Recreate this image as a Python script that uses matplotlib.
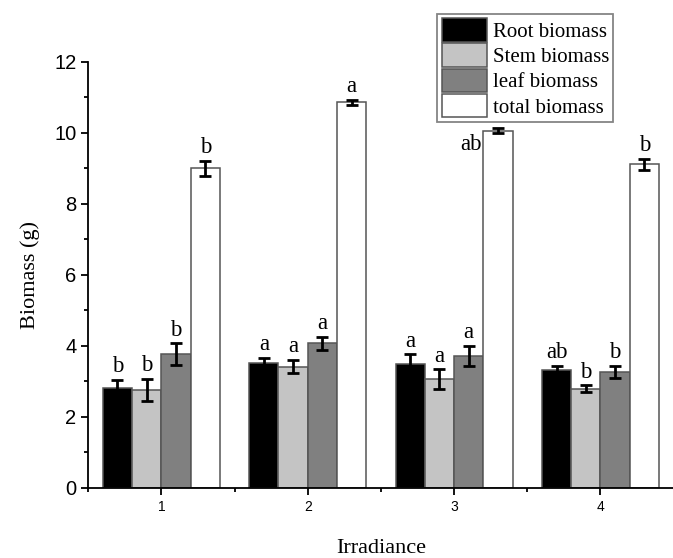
import numpy as np
import matplotlib
matplotlib.use('Agg')
from matplotlib import pyplot as plt
from matplotlib.ticker import MultipleLocator

# irradiance levels
irradiance = [1, 2, 3, 4]
series_names = ['Root biomass', 'Stem biomass', 'leaf biomass', 'total biomass']

root_mean = [2.81, 3.52, 3.48, 3.33]
stem_mean = [2.77, 3.42, 3.06, 2.79]
leaf_mean = [3.76, 4.08, 3.72, 3.27]
total_mean = [9.01, 10.86, 10.06, 9.12]

root_err = [0.23, 0.15, 0.28, 0.10]
stem_err = [0.31, 0.19, 0.28, 0.10]
leaf_err = [0.31, 0.18, 0.28, 0.16]
total_err = [0.21, 0.06, 0.07, 0.15]

root_sig = ['b', 'a', 'a', 'ab']
stem_sig = ['b', 'a', 'a', 'b']
leaf_sig = ['b', 'a', 'a', 'b']
total_sig = ['b', 'a', 'ab', 'b']

means = [root_mean, stem_mean, leaf_mean, total_mean]
errs = [root_err, stem_err, leaf_err, total_err]
sigs = [root_sig, stem_sig, leaf_sig, total_sig]
colors = ['#000000', '#c4c4c4', '#808080', '#ffffff']

SERIF = 'Liberation Serif'
SANS = 'Liberation Sans'

fig = plt.figure(figsize=(6.73, 5.58), dpi=100)
ax = fig.add_axes([0.131, 0.1255, 0.870, 0.7635])

x = np.array(irradiance, dtype=float)
width = 0.2
offsets = [-0.3, -0.1, 0.1, 0.3]

for k in range(4):
    xs = x + offsets[k]
    ax.bar(xs, means[k], width, color=colors[k], edgecolor='#555555',
           linewidth=1.1, label=series_names[k], zorder=2)
    ax.errorbar(xs, means[k], yerr=errs[k], fmt='none', ecolor='black',
                elinewidth=2, capsize=4, capthick=2, zorder=3)
    for i in range(4):
        top = means[k][i] + errs[k][i]
        tx, ty, ha = xs[i], top + 0.22, 'center'
        if k == 3 and i == 2:
            # label sits left of the bar, under the legend
            tx, ty, ha = xs[i] - 0.11, means[k][i] - 0.55, 'right'
        ax.text(tx, ty, sigs[k][i], ha=ha, va='baseline',
                fontsize=16.5, family=SERIF, zorder=4)

ax.set_xlim(0.5, 4.5)
ax.set_ylim(0, 12)
ax.set_xticks(irradiance)
ax.xaxis.set_minor_locator(MultipleLocator(0.5))
ax.yaxis.set_major_locator(MultipleLocator(2))
ax.yaxis.set_minor_locator(MultipleLocator(1))

for s in ['top', 'right']:
    ax.spines[s].set_visible(False)
for s in ['left', 'bottom']:
    ax.spines[s].set_linewidth(1.3)

ax.tick_params(which='major', direction='out', length=5, width=1.3)
ax.tick_params(which='minor', direction='out', length=3, width=1.3)
ax.tick_params(axis='x', which='minor', labelbottom=False)
for lab in ax.get_yticklabels():
    lab.set_family(SANS)
    lab.set_fontsize(14.5)
for lab in ax.get_xticklabels():
    lab.set_family(SANS)
    lab.set_fontsize(10)

ax.set_xlabel('Irradiance', family=SERIF, fontsize=16, labelpad=18)
ax.set_ylabel('Biomass (g)', family=SERIF, fontsize=16, labelpad=10)

leg = ax.legend(loc='upper right', bbox_to_anchor=(0.911, 0.975),
                bbox_transform=fig.transFigure, borderaxespad=0,
                fancybox=False, frameon=True, edgecolor='#666666',
                prop={'family': SERIF, 'size': 15},
                handlelength=2.2, handleheight=1.35, handletextpad=0.25,
                labelspacing=0.08, borderpad=0.2)
leg.get_frame().set_linewidth(1.3)

plt.savefig('out.png', dpi=100)
